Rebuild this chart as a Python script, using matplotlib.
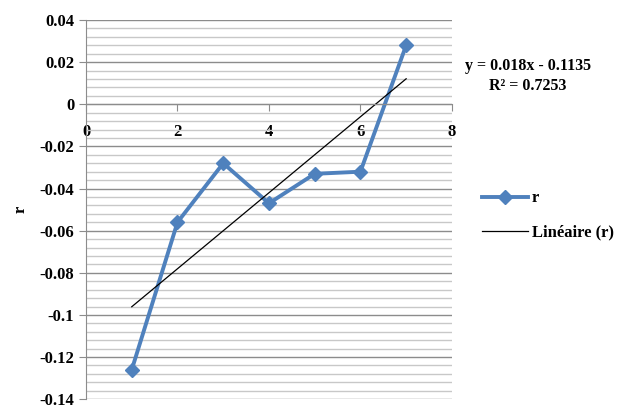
import numpy as np
import matplotlib
matplotlib.use("Agg")
import matplotlib.pyplot as plt
from matplotlib.ticker import MultipleLocator

x = [1, 2, 3, 4, 5, 6, 7]
r = [-0.126, -0.056, -0.028, -0.047, -0.033, -0.032, 0.028]
x_ticks = [0, 2, 4, 6, 8]
y_ticks = [-0.14, -0.12, -0.1, -0.08, -0.06, -0.04, -0.02, 0, 0.02, 0.04]
y_tick_labels = ['-0.14', '-0.12', '-0.1', '-0.08', '-0.06', '-0.04', '-0.02', '0', '0.02', '0.04']
eq_text = "y = 0.018x - 0.1135"
r2_text = "R² = 0.7253"

plt.rcParams['font.family'] = ['Liberation Serif', 'DejaVu Serif']
plt.rcParams['font.weight'] = 'bold'

fig = plt.figure(figsize=(6.19, 4.09), dpi=100)
ax = fig.add_axes([0.139, 0.024, 0.591, 0.927])

ax.set_xlim(0, 8)
ax.set_ylim(-0.14, 0.04)
ax.yaxis.set_minor_locator(MultipleLocator(0.004))
ax.grid(True, which='major', axis='y', color='#8c8c8c', lw=1.0)
ax.grid(True, which='minor', axis='y', color='#c8c8c8', lw=1.0)
ax.set_axisbelow(True)

for s in ['top', 'right']:
    ax.spines[s].set_visible(False)
ax.spines['bottom'].set_position(('data', 0))
ax.spines['left'].set_color('#8c8c8c')
ax.spines['bottom'].set_color('#8c8c8c')
ax.set_yticks(y_ticks)
ax.set_yticklabels(y_tick_labels)
ax.set_xticks(x_ticks)
ax.set_xticklabels([str(v) for v in x_ticks])
ax.tick_params(axis='y', which='major', direction='out', length=5, color='#8c8c8c', labelsize=12)
ax.tick_params(axis='y', which='minor', length=0)
ax.tick_params(axis='x', direction='out', length=5, color='#8c8c8c', labelsize=12, pad=9)

ax.plot(x, r, color='#4F81BD', lw=2.8, marker='D', ms=7, label='r')
coef = np.polyfit(x, r, 1)
xs = np.array([x[0], x[-1]])
ax.plot(xs, np.polyval(coef, xs), color='black', lw=0.9, label='Linéaire (r)')

ax.set_ylabel('r', fontsize=12, fontweight='bold', labelpad=8)

fig.text(0.853, 0.828, eq_text, ha='center', fontsize=11.5, fontweight='bold')
fig.text(0.853, 0.779, r2_text, ha='center', fontsize=11.5, fontweight='bold')

ax.legend(loc='upper left', bbox_to_anchor=(1.04, 0.59), frameon=False,
          handlelength=2.8, handletextpad=0.2, labelspacing=1.1,
          prop={'weight': 'bold', 'size': 12})

fig.savefig('out.png', dpi=100)
